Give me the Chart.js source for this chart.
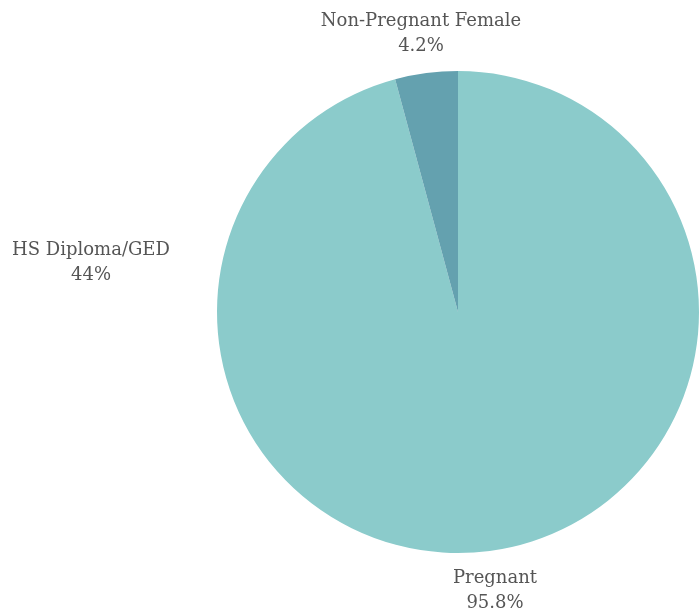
<!DOCTYPE html>
<html>
<head>
<meta charset="utf-8">
<script src="https://cdn.jsdelivr.net/npm/chart.js@4.4.1/dist/chart.umd.min.js"></script>
<style>
  html, body { margin: 0; padding: 0; background: #fff; }
  #wrap { width: 700px; height: 612px; }
</style>
</head>
<body>
<div id="wrap"><canvas id="pie"></canvas></div>
<script>
// slices, clockwise from 12 o'clock
const categorias = ['Pregnant', 'Non-Pregnant Female'];
const valores = [95.8, 4.2];
const cores = ['#8bcbcb', '#64a1af'];

// stray label left over in the source figure
const extraLabel = 'HS Diploma/GED';
const extraValor = '44%';

const fonteLabel = '18px "DejaVu Serif", serif';
const corTexto = '#555555';

// draws "name / value%" outside each slice
const pieLabels = {
    id: 'pieLabels',
    afterDraw(chart) {
        const ctx = chart.ctx;
        const meta = chart.getDatasetMeta(0);
        ctx.save();
        ctx.font = fonteLabel;
        ctx.fillStyle = corTexto;
        ctx.textAlign = 'center';
        ctx.textBaseline = 'middle';
        meta.data.forEach((arc, i) => {
            const mid = (arc.startAngle + arc.endAngle) / 2;
            const r = arc.outerRadius + 40;
            const x = arc.x + Math.cos(mid) * r;
            const y = arc.y + Math.sin(mid) * r;
            ctx.fillText(categorias[i], x, y - 12);
            ctx.fillText(valores[i] + '%', x, y + 13);
        });
        // left-hand label
        const a = chart.chartArea;
        const lx = a.left - 126;
        const ly = (a.top + a.bottom) / 2 - 50;
        ctx.fillText(extraLabel, lx, ly - 12);
        ctx.fillText(extraValor, lx, ly + 13);
        ctx.restore();
    }
};

window.addEventListener('DOMContentLoaded', () => {
    const el = document.getElementById('pie');
    new Chart(el, {
        type: 'pie',
        data: {
            labels: categorias,
            datasets: [{
                data: valores,
                backgroundColor: cores,
                borderWidth: 0
            }]
        },
        options: {
            responsive: true,
            maintainAspectRatio: false,
            animation: false,
            layout: {
                padding: { left: 217, right: 1, top: 71, bottom: 59 }
            },
            plugins: {
                legend: { display: false },
                tooltip: { enabled: false }
            }
        },
        plugins: [pieLabels]
    });
});
</script>
</body>
</html>
